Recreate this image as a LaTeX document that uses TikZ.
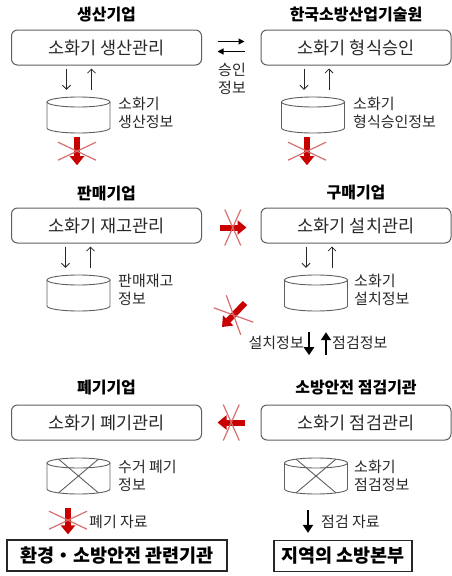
\documentclass[tikz,border=0pt]{standalone}
\usepackage{fontspec}
\setmainfont{Noto Sans CJK KR}
\usetikzlibrary{arrows.meta,calc}
\definecolor{boxgray}{RGB}{95,95,95}
\definecolor{txtgray}{RGB}{40,40,40}
\definecolor{redarr}{RGB}{200,0,0}
\definecolor{xred}{RGB}{215,110,110}
\newcommand\dbcyl[3]{%
  \node[minimum width=63pt,minimum height=36pt,inner sep=0pt] (#1) at (#2,#3+13) {};
  \draw[dbline] (#2-31.5,#3) -- (#2-31.5,#3+26) arc[start angle=180,end angle=360,x radius=31.5pt,y radius=5pt] -- (#2+31.5,#3);
  \draw[dbline] (#2,#3) ellipse[x radius=31.5pt,y radius=5pt];}
\newcommand\dbcross[2]{%
  \draw[dbline] (#1-20,#2-3.9) -- (#1+20,#2+29.9);
  \draw[dbline] (#1+20,#2-3.9) -- (#1-20,#2+29.9);}
\newcommand\xcross[5]{%
  \draw[xline] ($(#1)+(#2,#3)$) -- ($(#1)-(#2,#3)$);
  \draw[xline] ($(#1)+(#4,#5)$) -- ($(#1)-(#4,#5)$);}
\begin{document}
\begin{tikzpicture}[x=1pt,y=-1pt,
  pbox/.style={draw=boxgray,line width=1pt,rounded corners=6pt,minimum width=190pt,minimum height=35pt,inner sep=0pt,text=txtgray,font=\fontsize{17.5}{20}\selectfont},
  obox/.style={draw=black!85,line width=1.2pt,minimum height=31pt,inner sep=0pt,font=\bfseries\fontsize{18.5}{21}\selectfont},
  ttl/.style={font=\bfseries\fontsize{16}{19}\selectfont,inner sep=0pt},
  dbline/.style={draw=boxgray,line width=0.9pt},
  lbl/.style={font=\fontsize{15}{18}\selectfont,align=left,inner sep=0pt,text=txtgray},
  smallarr/.style={draw=black!85,line width=0.8pt,-{Straight Barb[length=4pt,width=8pt]}},
  medarr/.style={draw=black,line width=1.1pt,-{Triangle[length=6pt,width=6pt]}},
  bigarr/.style={draw=black,line width=2.8pt,-{Triangle[length=8pt,width=10pt]}},
  redblock/.style={draw=redarr,line width=6pt,-{Triangle[length=9pt,width=14pt]}},
  xline/.style={draw=xred,line width=1.2pt}
]
\useasboundingbox (0,0) rectangle (452,576);

% titles
\node[ttl] (t1) at (106.5,15) {생산기업};
\node[ttl] (t2) at (356,15) {한국소방산업기술원};
\node[ttl] (t3) at (106.5,193) {판매기업};
\node[ttl] (t4) at (356,193) {구매기업};
\node[ttl] (t5) at (106.5,388) {폐기기업};
\node[ttl] (t6) at (356,388) {소방안전 점검기관};

% process boxes
\node[pbox] (b1) at (106.5,47.5) {소화기 생산관리};
\node[pbox] (b2) at (356,47.5) {소화기 형식승인};
\node[pbox] (b3) at (106.5,225.5) {소화기 재고관리};
\node[pbox] (b4) at (356,225.5) {소화기 설치관리};
\node[pbox] (b5) at (106.5,422.5) {소화기 폐기관리};
\node[pbox] (b6) at (356,422.5) {소화기 점검관리};

% databases
\dbcyl{db1}{78.5}{102}
\dbcyl{db2}{313}{102}
\dbcyl{db3}{78.5}{280}
\dbcyl{db4}{316}{280}
\dbcyl{db5}{78.5}{463}
\dbcyl{db6}{316}{463}
\dbcross{78.5}{463}
\dbcross{316}{463}

\node[lbl,anchor=west] (l1) at (118,113) {소화기\\생산정보};
\node[lbl,anchor=west] (l2) at (353,113) {소화기\\형식승인정보};
\node[lbl,anchor=west] (l3) at (118,290) {판매재고\\정보};
\node[lbl,anchor=west] (l4) at (354,290) {소화기\\설치정보};
\node[lbl,anchor=west] (l5) at (118,476) {수거 폐기\\정보};
\node[lbl,anchor=west] (l6) at (354,476) {소화기\\점검정보};

% box <-> db arrows
\coordinate (a1) at ($(db1.north)+(-12,0)$);
\coordinate (a2) at ($(db1.north)+(13,0)$);
\coordinate (a3) at ($(db2.north)+(-9,0)$);
\coordinate (a4) at ($(db2.north)+(16,0)$);
\coordinate (a5) at ($(db3.north)+(-13,0)$);
\coordinate (a6) at ($(db3.north)+(12,0)$);
\coordinate (a7) at ($(db4.north)+(-10,0)$);
\coordinate (a8) at ($(db4.north)+(16,0)$);
\draw[smallarr,shorten <=3pt,shorten >=7pt] (a1 |- b1.south) -- (a1);
\draw[smallarr,shorten <=7pt,shorten >=3pt] (a2) -- (a2 |- b1.south);
\draw[smallarr,shorten <=3pt,shorten >=7pt] (a3 |- b2.south) -- (a3);
\draw[smallarr,shorten <=7pt,shorten >=3pt] (a4) -- (a4 |- b2.south);
\draw[smallarr,shorten <=3pt,shorten >=7pt] (a5 |- b3.south) -- (a5);
\draw[smallarr,shorten <=7pt,shorten >=3pt] (a6) -- (a6 |- b3.south);
\draw[smallarr,shorten <=3pt,shorten >=7pt] (a7 |- b4.south) -- (a7);
\draw[smallarr,shorten <=7pt,shorten >=3pt] (a8) -- (a8 |- b4.south);

% approval exchange
\draw[medarr,shorten <=15.5pt,shorten >=16pt] ([yshift=6pt]b1.east) -- ([yshift=6pt]b2.west);
\draw[medarr,shorten <=16pt,shorten >=15.5pt] ([yshift=-4pt]b2.west) -- ([yshift=-4pt]b1.east);
\node[lbl,align=center] (ap) at (232,79) {승인\\정보};

% blocked red arrows
\coordinate (r1s) at ($(db1.south)+(-1.5,4)$);
\coordinate (r1e) at ($(r1s)+(0,28)$);
\draw[redblock] (r1s) -- (r1e);
\coordinate (r1m) at ($(r1s)!0.5!(r1e)$);
\xcross{r1m}{19}{9}{19}{-9}

\coordinate (r2s) at ($(db2.south)+(-6,4)$);
\coordinate (r2e) at ($(r2s)+(0,28)$);
\draw[redblock] (r2s) -- (r2e);
\coordinate (r2m) at ($(r2s)!0.5!(r2e)$);
\xcross{r2m}{19}{9}{19}{-9}

\draw[redblock,shorten <=17.5pt,shorten >=14pt] ([yshift=-2pt]b3.east) -- ([yshift=-2pt]b4.west);
\coordinate (r3m) at ($(b3.east)!0.5!(b4.west)+(1.5,2)$);
\xcross{r3m}{8}{18}{-8}{18}

\draw[redblock,shorten <=16pt,shorten >=15.5pt] (b6.west) -- (b5.east);
\coordinate (r4m) at ($(b5.east)!0.5!(b6.west)$);
\xcross{r4m}{8}{18}{-8}{18}

\coordinate (d1) at (245,303);
\coordinate (d2) at (222,327);
\draw[redblock] (d1) -- (d2);
\coordinate (dm) at ($(d1)!0.5!(d2)$);
\xcross{dm}{19.7}{7.2}{7.2}{19.7}

% installation / inspection exchange
\coordinate (k1) at ($(db4.south)+(-7,21)$);
\coordinate (k2) at ($(db4.south)+(10,21)$);
\draw[bigarr] (k1) -- ++(0,23);
\draw[bigarr] ($(k2)+(0,23)$) -- (k2);
\node[lbl,anchor=east] (k1l) at (304,343) {설치정보};
\node[lbl,anchor=west] (k2l) at (332,343) {점검정보};

% output boxes
\node[obox,minimum width=220pt] (env) at (117,555.5) {환경・소방안전 관련기관};
\node[obox,minimum width=138pt] (reg) at (343,556) {지역의 소방본부};

\coordinate (r5s) at ($(db5.south)+(-10.5,14)$);
\draw[redblock,shorten >=5pt] (r5s) -- (r5s |- env.north);
\coordinate (r5m) at ($(r5s)+(0,12)$);
\xcross{r5m}{19}{9}{19}{-9}
\node[lbl,anchor=west] (wl) at (89,522) {폐기 자료};

\coordinate (p1) at ($(db6.south)+(-8,16)$);
\draw[bigarr,shorten >=7pt] (p1) -- (p1 |- reg.north);
\node[lbl,anchor=west] (pl) at (321,522) {점검 자료};
\end{tikzpicture}
\end{document}
